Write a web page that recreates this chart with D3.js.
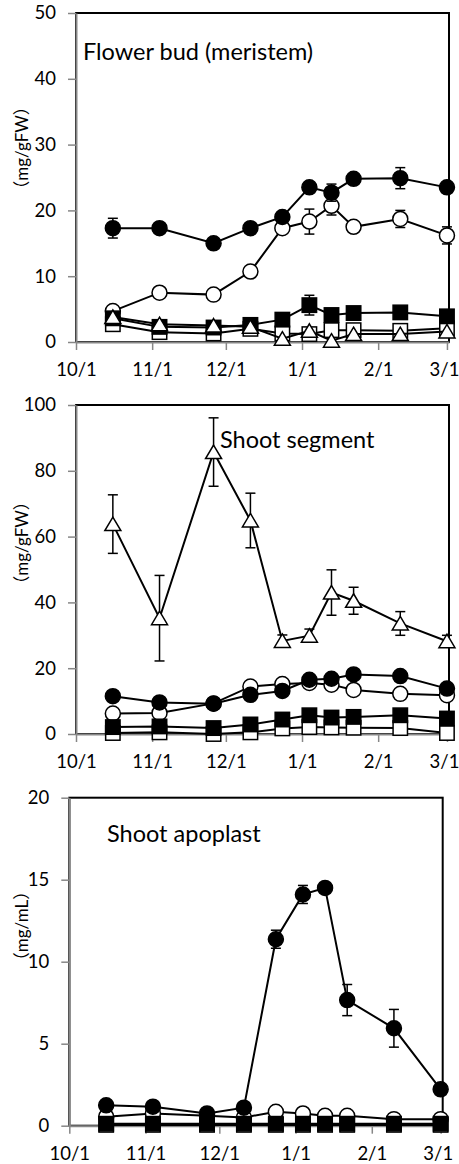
<!DOCTYPE html>
<html>
<head>
<meta charset="utf-8">
<script src="https://cdn.jsdelivr.net/npm/d3@7"></script>
<style>
  body { margin: 0; background: #fff; }
  svg { display: block; }
  text { font-family: Lato, "Noto Sans CJK JP", sans-serif; fill: #000; }
</style>
</head>
<body>
<svg id="chart" width="459" height="1164"></svg>
<script>
// Fechas de muestreo (compartidas por los tres paneles)
const sampleDates = ['2012-10-16', '2012-11-04', '2012-11-26', '2012-12-11', '2012-12-24',
                     '2013-01-04', '2013-01-13', '2013-01-22', '2013-02-10', '2013-03-01'];
const xTickDates = ['2012-10-01', '2012-11-01', '2012-12-01', '2013-01-01', '2013-02-01', '2013-03-01'];
const xTickLabels = ['10/1', '11/1', '12/1', '1/1', '2/1', '3/1'];

// Flower bud (meristem)
const budFilledCircle = [17.3, 17.3, 15.0, 17.3, 19.0, 23.5, 22.7, 24.8, 24.9, 23.5];
const budFilledCircleErr = [1.5, 0.3, 0.3, 0.3, 0.4, 0.5, 1.3, 0.4, 1.6, 0.4];
const budOpenCircle = [4.7, 7.5, 7.2, 10.7, 17.3, 18.3, 20.7, 17.5, 18.7, 16.2];
const budOpenCircleErr = [0.3, 0.3, 0.3, 0.4, 0.4, 1.9, 1.4, 0.4, 1.3, 1.3];
const budFilledSquare = [3.6, 2.3, 2.2, 2.6, 3.4, 5.6, 4.1, 4.4, 4.5, 3.9];
const budFilledSquareErr = [0.2, 0.2, 0.2, 0.2, 0.2, 1.5, 0.3, 0.3, 0.3, 0.3];
const budOpenSquare = [2.7, 1.5, 1.3, 2.0, 1.3, 1.2, 1.8, 1.8, 1.7, 2.1];
const budOpenTriangle = [3.8, 2.7, 2.5, 2.3, 0.5, 1.7, 0.2, 1.2, 1.2, 1.6];

// Shoot segment
const segFilledCircle = [11.5, 9.6, 9.2, 11.9, 13.1, 16.5, 16.8, 18.1, 17.6, 13.8];
const segOpenCircle = [6.2, 6.4, 9.3, 14.4, 15.2, 15.5, 15.0, 13.4, 12.2, 11.8];
const segFilledSquare = [2.1, 2.3, 1.8, 2.9, 4.4, 5.7, 5.0, 5.2, 5.7, 4.7];
const segOpenSquare = [0.3, 0.5, 0.0, 0.5, 1.7, 2.1, 2.0, 1.9, 1.8, 0.3];
const segOpenTriangle = [63.8, 35.2, 85.7, 64.9, 28.3, 29.9, 43.0, 40.5, 33.6, 28.2];
const segOpenTriangleErr = [8.9, 13.0, 10.4, 8.3, 1.8, 2.0, 6.9, 4.1, 3.6, 1.8];

// Shoot apoplast
const apoFilledCircle = [1.24, 1.16, 0.75, 1.1, 11.37, 14.1, 14.5, 7.66, 5.94, 2.22];
const apoFilledCircleErr = [0.1, 0.1, 0.1, 0.1, 0.55, 0.55, 0.15, 0.95, 1.15, 0.15];
const apoOpenCircle = [0.55, 0.75, 0.6, 0.5, 0.85, 0.75, 0.6, 0.6, 0.4, 0.4];
const apoFilledSquare = [0.12, 0.12, 0.12, 0.12, 0.12, 0.12, 0.12, 0.12, 0.12, 0.12];
const apoOpenSquare = [0.05, 0.05, 0.05, 0.05, 0.05, 0.05, 0.05, 0.05, 0.05, 0.05];

const budTicks = [0, 10, 20, 30, 40, 50];
const segTicks = [0, 20, 40, 60, 80, 100];
const apoTicks = [0, 5, 10, 15, 20];

const parseDate = d3.timeParse('%Y-%m-%d');
const fechas = sampleDates.map(parseDate);

const paneles = [
  {
    title: 'Flower bud (meristem)', titleX: 83, titleY: 60,
    yLabel: '（mg/gFW）', yLabelY: 148,
    left: 76, right: 449, top: 13, bottom: 342, ticks: budTicks,
    series: [
      { values: budOpenCircle, err: budOpenCircleErr, shape: 'circle', fill: '#fff' },
      { values: budFilledCircle, err: budFilledCircleErr, shape: 'circle', fill: '#000' },
      { values: budOpenSquare, shape: 'square', fill: '#fff' },
      { values: budFilledSquare, err: budFilledSquareErr, shape: 'square', fill: '#000' },
      { values: budOpenTriangle, shape: 'triangle', fill: '#fff' }
    ]
  },
  {
    title: 'Shoot segment', titleX: 220, titleY: 448,
    yLabel: '（mg/gFW）', yLabelY: 543,
    left: 76, right: 449, top: 405, bottom: 734, ticks: segTicks,
    series: [
      { values: segOpenCircle, shape: 'circle', fill: '#fff' },
      { values: segFilledCircle, shape: 'circle', fill: '#000' },
      { values: segOpenSquare, shape: 'square', fill: '#fff' },
      { values: segFilledSquare, shape: 'square', fill: '#000' },
      { values: segOpenTriangle, err: segOpenTriangleErr, shape: 'triangle', fill: '#fff' }
    ]
  },
  {
    title: 'Shoot apoplast', titleX: 107, titleY: 842,
    yLabel: '（mg/mL）', yLabelY: 926,
    left: 69.3, right: 442.7, top: 797.7, bottom: 1125.7, ticks: apoTicks,
    series: [
      { values: apoOpenCircle, shape: 'circle', fill: '#fff' },
      { values: apoFilledCircle, err: apoFilledCircleErr, shape: 'circle', fill: '#000' },
      { values: apoOpenSquare, shape: 'square', fill: '#fff' },
      { values: apoFilledSquare, shape: 'square', fill: '#000' }
    ]
  }
];

const svg = d3.select('#chart');
const grisEje = '#878787';

// Dibujar un marcador segun su forma
function dibujarMarcador(g, shape) {
  if (shape === 'circle') {
    g.append('circle').attr('r', 7.5);
  } else if (shape === 'square') {
    g.append('rect').attr('x', -7.2).attr('y', -7.2).attr('width', 14.4).attr('height', 14.4);
  } else {
    g.append('path').attr('d', 'M0,-7L8,6.5L-8,6.5Z');
  }
}

paneles.forEach(p => {
  const x = d3.scaleTime()
    .domain([parseDate('2012-10-01'), new Date(2013, 2, 1, 20)])
    .range([p.left, p.right]);
  const y = d3.scaleLinear()
    .domain([0, d3.max(p.ticks)])
    .range([p.bottom, p.top]);

  const g = svg.append('g');

  // Borde del area de trazado
  g.append('rect')
    .attr('x', p.left).attr('y', p.top)
    .attr('width', p.right - p.left).attr('height', p.bottom - p.top)
    .attr('fill', 'none').attr('stroke', '#000').attr('stroke-width', 2);

  // Eje Y
  const ejeY = g.append('g')
    .attr('transform', `translate(${p.left},0)`)
    .call(d3.axisLeft(y).tickValues(p.ticks).tickSize(8).tickPadding(12).tickSizeOuter(0));
  ejeY.select('.domain').attr('stroke', grisEje).attr('stroke-width', 2);
  ejeY.selectAll('.tick line').attr('stroke', grisEje).attr('stroke-width', 1.5);
  ejeY.selectAll('.tick text').style('font-size', '18.5px').attr('fill', '#000');

  // Eje X
  const ejeX = g.append('g')
    .attr('transform', `translate(0,${p.bottom})`)
    .call(d3.axisBottom(x)
      .tickValues(xTickDates.map(parseDate))
      .tickFormat((d, i) => xTickLabels[i])
      .tickSize(8).tickPadding(13).tickSizeOuter(0));
  ejeX.select('.domain').attr('stroke', grisEje).attr('stroke-width', 2);
  ejeX.selectAll('.tick line').attr('stroke', grisEje).attr('stroke-width', 1.5);
  ejeX.selectAll('.tick text').style('font-size', '18.5px').attr('fill', '#000');
  // la ultima etiqueta (3/1) se acerca al borde: correrla un poco
  ejeX.selectAll('.tick text').filter((d, i) => i === xTickLabels.length - 1)
    .attr('text-anchor', 'end').attr('x', 12);

  // Titulo del panel
  g.append('text')
    .attr('x', p.titleX).attr('y', p.titleY)
    .style('font-size', '23.5px')
    .text(p.title);

  // Etiqueta del eje Y
  g.append('text')
    .attr('transform', `translate(21,${p.yLabelY}) rotate(-90)`)
    .attr('text-anchor', 'middle')
    .attr('dominant-baseline', 'central')
    .style('font-size', '17px')
    .text(p.yLabel);

  const linea = d3.line()
    .x((d, i) => x(fechas[i]))
    .y(d => y(d));

  p.series.forEach(s => {
    const sg = g.append('g');

    sg.append('path')
      .attr('d', linea(s.values))
      .attr('fill', 'none')
      .attr('stroke', '#000')
      .attr('stroke-width', 2);

    if (s.err) {
      const barras = sg.selectAll('g.err')
        .data(s.values)
        .enter()
        .append('g')
        .attr('class', 'err')
        .attr('stroke', '#000')
        .attr('stroke-width', 1.5);
      barras.append('line')
        .attr('x1', (d, i) => x(fechas[i])).attr('x2', (d, i) => x(fechas[i]))
        .attr('y1', (d, i) => y(d + s.err[i])).attr('y2', (d, i) => y(d - s.err[i]));
      barras.append('line')
        .attr('x1', (d, i) => x(fechas[i]) - 5).attr('x2', (d, i) => x(fechas[i]) + 5)
        .attr('y1', (d, i) => y(d + s.err[i])).attr('y2', (d, i) => y(d + s.err[i]));
      barras.append('line')
        .attr('x1', (d, i) => x(fechas[i]) - 5).attr('x2', (d, i) => x(fechas[i]) + 5)
        .attr('y1', (d, i) => y(d - s.err[i])).attr('y2', (d, i) => y(d - s.err[i]));
    }

    sg.selectAll('g.mk')
      .data(s.values)
      .enter()
      .append('g')
      .attr('class', 'mk')
      .attr('transform', (d, i) => `translate(${x(fechas[i])},${y(d)})`)
      .attr('fill', s.fill)
      .attr('stroke', '#000')
      .attr('stroke-width', 1.5)
      .each(function () { dibujarMarcador(d3.select(this), s.shape); });
  });
});
</script>
</body>
</html>
